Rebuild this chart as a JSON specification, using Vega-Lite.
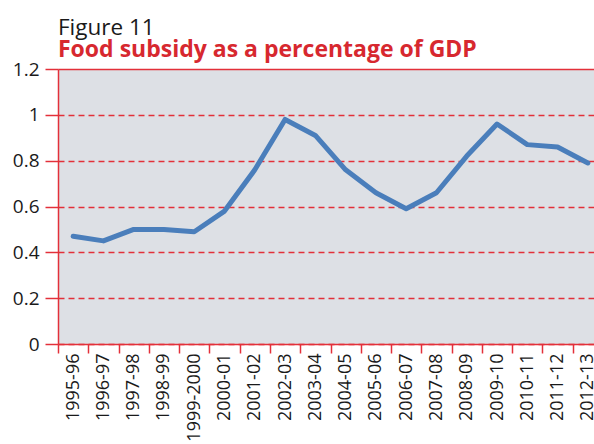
{
  "$schema": "https://vega.github.io/schema/vega-lite/v6.json",
  "width": 536,
  "height": 275,
  "autosize": "none",
  "padding": {"left": 58, "top": 69, "right": 0, "bottom": 100},
  "background": "white",
  "config": {
    "font": "Open Sans",
    "view": {"fill": "#dde0e5", "stroke": null}
  },
  "title": {
    "text": "Figure 11",
    "subtitle": "Food subsidy as a percentage of GDP",
    "anchor": "start",
    "frame": "group",
    "font": "Open Sans",
    "fontSize": 22.5,
    "fontWeight": "normal",
    "color": "#1a1a1a",
    "subtitleFont": "Open Sans",
    "subtitleFontSize": 23,
    "subtitleFontWeight": "bold",
    "subtitleColor": "#d7282f",
    "subtitlePadding": 0,
    "offset": -2
  },
  "data": {
    "values": [
      {"year": "1995-96", "value": 0.47},
      {"year": "1996-97", "value": 0.45},
      {"year": "1997-98", "value": 0.50},
      {"year": "1998-99", "value": 0.50},
      {"year": "1999-2000", "value": 0.49},
      {"year": "2000-01", "value": 0.58},
      {"year": "2001-02", "value": 0.76},
      {"year": "2002-03", "value": 0.98},
      {"year": "2003-04", "value": 0.91},
      {"year": "2004-05", "value": 0.76},
      {"year": "2005-06", "value": 0.66},
      {"year": "2006-07", "value": 0.59},
      {"year": "2007-08", "value": 0.66},
      {"year": "2008-09", "value": 0.82},
      {"year": "2009-10", "value": 0.96},
      {"year": "2010-11", "value": 0.87},
      {"year": "2011-12", "value": 0.86},
      {"year": "2012-13", "value": 0.79}
    ]
  },
  "mark": {"type": "line", "color": "#4a7ebb", "strokeWidth": 5, "strokeJoin": "round", "strokeCap": "round"},
  "encoding": {
    "x": {
      "field": "year",
      "type": "nominal",
      "sort": null,
      "bandPosition": 0.5,
      "scale": {"type": "band", "range": [0, 545], "paddingInner": 0, "paddingOuter": 0},
      "axis": {
        "title": null,
        "tickBand": "extent",
        "labelAngle": -90,
        "labelFont": "Open Sans",
        "labelFontSize": 18,
        "labelColor": "#1a1a1a",
        "labelPadding": 0,
        "tickSize": 9,
        "tickColor": "#e3303a",
        "domainColor": "#e3303a",
        "tickWidth": 1.5,
        "domainWidth": 1.5,
        "grid": false
      }
    },
    "y": {
      "field": "value",
      "type": "quantitative",
      "scale": {"domain": [0, 1.2], "nice": false},
      "axis": {
        "title": null,
        "values": [0, 0.2, 0.4, 0.6, 0.8, 1, 1.2],
        "labelExpr": "datum.value == 0 ? '0' : format(datum.value, '.1~f')",
        "labelFont": "Open Sans",
        "labelFontSize": 19,
        "labelColor": "#1a1a1a",
        "labelPadding": 6,
        "tickSize": 13,
        "tickColor": "#e3303a",
        "tickWidth": 1.5,
        "domainColor": "#e3303a",
        "domainWidth": 1.5,
        "grid": true,
        "gridColor": "#e3303a",
        "gridOpacity": 1,
        "gridWidth": 1.5,
        "gridDash": {"condition": {"test": "datum.value >= 1.2", "value": []}, "value": [6, 4]}
      }
    }
  }
}
